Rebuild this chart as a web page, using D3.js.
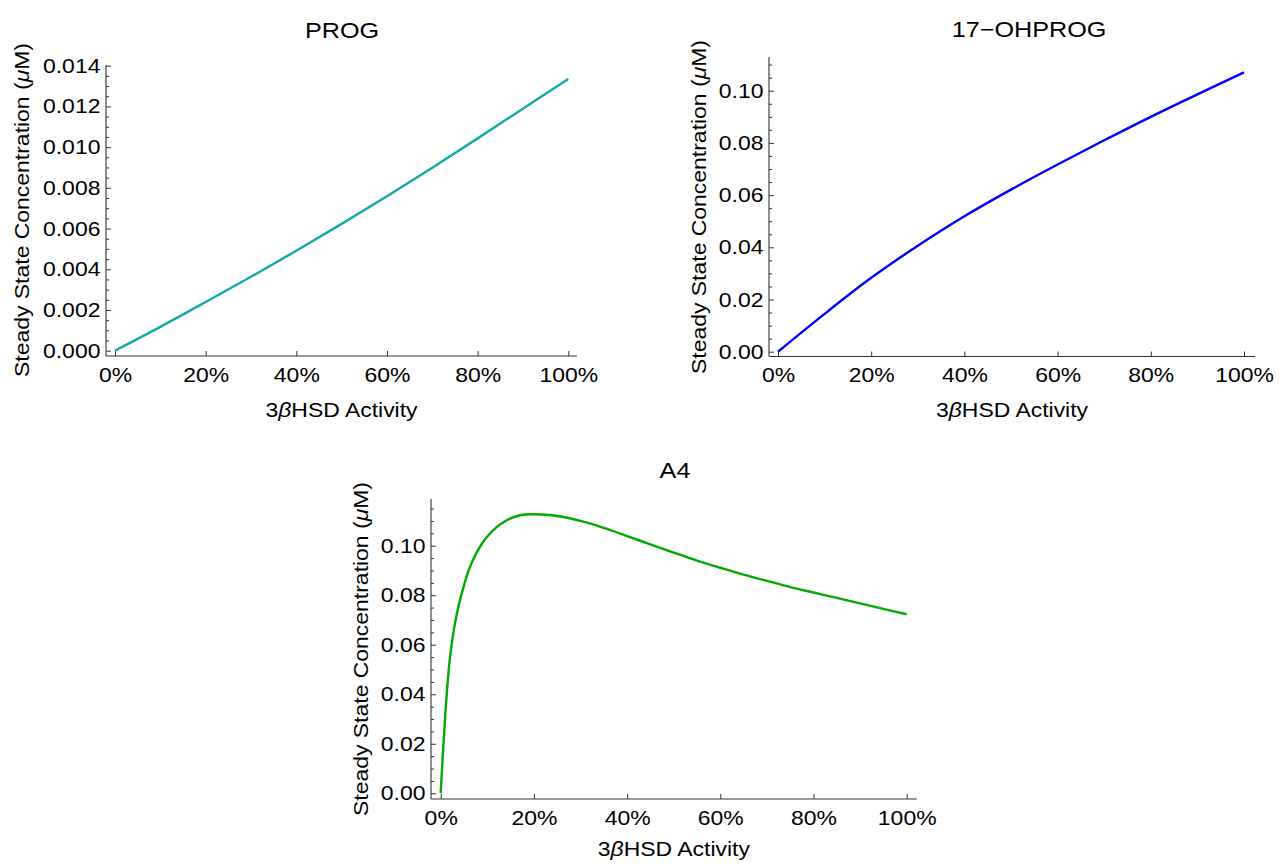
<!DOCTYPE html>
<html>
<head>
<meta charset="utf-8">
<script src="https://cdn.jsdelivr.net/npm/d3@7"></script>
<style>
  html, body { margin: 0; padding: 0; background: #fff; }
  svg { display: block; }
</style>
</head>
<body>
<svg id="chart" width="1281" height="864"></svg>
<script>
// ---------------- data ----------------
const titles = ["PROG", "17\u2212OHPROG", "A4"];
const activity = [0, 10, 20, 30, 40, 50, 60, 70, 80, 90, 100];            // % 3βHSD activity
const progValues = [0, 0.00117, 0.00239, 0.00363, 0.00491, 0.00623, 0.00759, 0.00899, 0.01043, 0.01189, 0.01335];
const ohprogValues = [0, 0.0145, 0.0283, 0.0406, 0.0519, 0.0621, 0.0717, 0.0810, 0.0900, 0.0986, 0.1070];
const a4Activity = [0, 0.3, 0.6, 1, 1.5, 2, 3, 4, 5, 6, 7, 8, 9, 10, 12, 14, 16, 18, 20, 25, 30, 35, 40, 45, 50, 55, 60, 65, 70, 75, 80, 85, 90, 95, 100];
const a4Values = [0, 0.0105, 0.020, 0.032, 0.045, 0.055, 0.068, 0.0770, 0.0840, 0.0900, 0.0945, 0.0982, 0.1012, 0.1037, 0.1075, 0.1101, 0.1117, 0.1126, 0.1127, 0.1120, 0.1100, 0.1072, 0.1039, 0.1005, 0.0972, 0.0940, 0.0911, 0.0883, 0.0858, 0.0833, 0.0811, 0.0789, 0.0767, 0.0745, 0.0723];
const xTickValues = [0, 20, 40, 60, 80, 100];
const progYTicks = [0, 0.002, 0.004, 0.006, 0.008, 0.010, 0.012, 0.014];
const ohprogYTicks = [0, 0.02, 0.04, 0.06, 0.08, 0.10];
const a4YTicks = [0, 0.02, 0.04, 0.06, 0.08, 0.10];
const xLabelText = ["3", "\u03B2", "HSD Activity"];
const yLabelText = ["Steady State Concentration (", "\u03BC", "M)"];

// ---------------- layout ----------------
const FONT = "'Liberation Sans', Arial, Helvetica, sans-serif";
const SX = 1.12;          // glyph widening to match the reference's wide text
const FS = 20.5;
const AXIS_COLOR = "#333";

const panels = [
  { title: titles[0], xs: activity, ys: progValues, color: "#14a9a9",
    yTicks: progYTicks, minorStep: 0.0005, minorMax: 0.014, fmt: d3.format(".3f"),
    xPx: [115, 568.3], yPx: [350.7, 65.7], yDom: [0, 0.014],
    axisX: 106, axisY: 356, axisRight: 577, axisTop: 65,
    titleX: 342, titleY: 38, yLabX: 29, yLabY: 210, xLabY: 417 },
  { title: titles[1], xs: activity, ys: ohprogValues, color: "#0000ff",
    yTicks: ohprogYTicks, minorStep: 0.005, minorMax: 0.11, fmt: d3.format(".2f"),
    xPx: [778, 1244], yPx: [351.7, 90.7], yDom: [0, 0.10],
    axisX: 769, axisY: 356.5, axisRight: 1255, axisTop: 57,
    titleX: 1029, titleY: 37, yLabX: 706, yLabY: 207, xLabY: 417 },
  { title: titles[2], xs: a4Activity, ys: a4Values, color: "#00aa00",
    yTicks: a4YTicks, minorStep: 0.005, minorMax: 0.115, fmt: d3.format(".2f"),
    xPx: [440.7, 906.7], yPx: [793.3, 545.7], yDom: [0, 0.10],
    axisX: 431, axisY: 799, axisRight: 916.7, axisTop: 499,
    titleX: 675, titleY: 478, yLabX: 368, yLabY: 649, xLabY: 856 }
];

const svg = d3.select("#chart");

function richText(g, parts, italicIdx) {
  parts.forEach((p, i) => {
    g.append("tspan").attr("font-style", i === italicIdx ? "italic" : "normal").text(p);
  });
}

panels.forEach(p => {
  const x = d3.scaleLinear().domain([0, 100]).range(p.xPx);
  const y = d3.scaleLinear().domain(p.yDom).range(p.yPx);
  const g = svg.append("g");

  // axis lines
  g.append("line").attr("x1", p.axisX).attr("x2", p.axisRight)
    .attr("y1", p.axisY).attr("y2", p.axisY)
    .attr("stroke", AXIS_COLOR).attr("stroke-width", 1.1);
  g.append("line").attr("x1", p.axisX).attr("x2", p.axisX)
    .attr("y1", p.axisTop).attr("y2", p.axisY)
    .attr("stroke", AXIS_COLOR).attr("stroke-width", 1.1);

  // minor y ticks
  const minor = d3.range(0, p.minorMax + 1e-9, p.minorStep)
    .filter(v => !p.yTicks.some(t => Math.abs(t - v) < 1e-9));
  const yMinorAxis = d3.axisLeft(y).tickValues(minor).tickSizeInner(-3).tickSizeOuter(0).tickFormat("");
  const gyMinor = g.append("g").attr("transform", `translate(${p.axisX},0)`).call(yMinorAxis);
  gyMinor.select(".domain").remove();
  gyMinor.selectAll("line").attr("stroke", AXIS_COLOR);

  // major y ticks
  const yAxis = d3.axisLeft(y).tickValues(p.yTicks).tickSizeInner(-5).tickSizeOuter(0)
    .tickPadding(5).tickFormat(p.fmt);
  const gy = g.append("g").attr("transform", `translate(${p.axisX},0)`).call(yAxis);
  gy.select(".domain").remove();
  gy.selectAll("line").attr("stroke", AXIS_COLOR);
  gy.attr("font-size", FS).attr("font-family", FONT);
  gy.selectAll("text").attr("fill", "#000").attr("transform", `scale(${SX},1)`);

  // x ticks
  const xAxis = d3.axisBottom(x).tickValues(xTickValues).tickSizeInner(-5).tickSizeOuter(0)
    .tickPadding(11).tickFormat(d => d + "%");
  const gx = g.append("g").attr("transform", `translate(0,${p.axisY})`).call(xAxis);
  gx.select(".domain").remove();
  gx.selectAll("line").attr("stroke", AXIS_COLOR);
  gx.attr("font-size", FS).attr("font-family", FONT);
  gx.selectAll("text").attr("fill", "#000").attr("transform", `scale(${SX},1)`);

  // curve
  const line = d3.line()
    .x((d, i) => x(p.xs[i]))
    .y(d => y(d))
    .curve(d3.curveCatmullRom.alpha(0.5));
  g.append("path").datum(p.ys)
    .attr("d", line)
    .attr("fill", "none")
    .attr("stroke", p.color)
    .attr("stroke-width", 2.4)
    .attr("stroke-linejoin", "round");

  // title
  g.append("text")
    .attr("transform", `translate(${p.titleX},${p.titleY}) scale(${SX},1)`)
    .attr("text-anchor", "middle")
    .attr("font-family", FONT).attr("font-size", 22.5).attr("fill", "#000")
    .text(p.title);

  // x label
  const xl = g.append("text")
    .attr("transform", `translate(${(p.axisX + p.axisRight) / 2},${p.xLabY}) scale(${SX},1)`)
    .attr("text-anchor", "middle")
    .attr("font-family", FONT).attr("font-size", FS).attr("fill", "#000");
  richText(xl, xLabelText, 1);

  // y label
  const yl = g.append("text")
    .attr("transform", `translate(${p.yLabX},${p.yLabY}) rotate(-90) scale(${SX},1)`)
    .attr("text-anchor", "middle")
    .attr("font-family", FONT).attr("font-size", FS).attr("fill", "#000");
  richText(yl, yLabelText, 1);
});
</script>
</body>
</html>
